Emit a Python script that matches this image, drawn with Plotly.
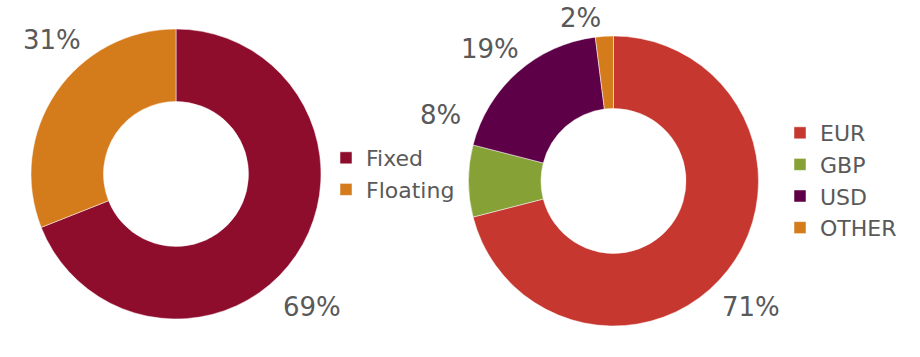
import plotly.graph_objects as go

rate_labels = ["Fixed", "Floating"]
rate_values = [69, 31]
rate_colors = ["#8E0C2C", "#D47B1C"]

ccy_labels = ["EUR", "GBP", "USD", "OTHER"]
ccy_values = [71, 8, 19, 2]
ccy_colors = ["#C6372F", "#86A135", "#5E0048", "#D47B1C"]

FONT = "DejaVu Sans"
TXT = "#595959"
W, H = 920, 357

# label anchor positions (pixels from top-left), layout only
rate_label_pos = [(312, 307), (52, 40)]
ccy_label_pos = [(751, 307), (440, 115), (490, 49), (580, 18)]

fig = go.Figure()
fig.add_trace(go.Pie(
    labels=rate_labels, values=rate_values, hole=0.5, sort=False,
    direction="clockwise", rotation=0,
    marker=dict(colors=rate_colors, line=dict(color="white", width=0.5)),
    textinfo="none",
    domain=dict(x=[31/W, 321/W], y=[1 - 319/H, 1 - 29/H]),
    legend="legend", automargin=False,
))
fig.add_trace(go.Pie(
    labels=ccy_labels, values=ccy_values, hole=0.5, sort=False,
    direction="clockwise", rotation=0,
    marker=dict(colors=ccy_colors, line=dict(color="white", width=0.5)),
    textinfo="none",
    domain=dict(x=[468/W, 759/W], y=[1 - 326/H, 1 - 36/H]),
    legend="legend2", automargin=False,
))

annotations = []
for vals, poss in ((rate_values, rate_label_pos), (ccy_values, ccy_label_pos)):
    for v, (px, py) in zip(vals, poss):
        annotations.append(dict(
            text=f"{v}%", x=px / W, y=1 - py / H, xref="paper", yref="paper",
            xanchor="center", yanchor="middle", showarrow=False,
            font=dict(family=FONT, size=26, color=TXT),
        ))

fig.update_layout(
    width=W, height=H,
    margin=dict(l=0, r=0, t=0, b=0),
    paper_bgcolor="white", plot_bgcolor="white",
    font=dict(family=FONT, color=TXT),
    annotations=annotations,
    legend=dict(x=326/W, xanchor="left", y=(H - 174)/H, yanchor="middle",
                font=dict(family=FONT, size=22, color=TXT), bgcolor="rgba(0,0,0,0)"),
    legend2=dict(x=780/W, xanchor="left", y=(H - 180.5)/H, yanchor="middle",
                 font=dict(family=FONT, size=22, color=TXT), bgcolor="rgba(0,0,0,0)"),
    showlegend=True,
)

fig.write_html("out.html", config={"displayModeBar": False},
               post_script="document.body.style.margin='0';")
